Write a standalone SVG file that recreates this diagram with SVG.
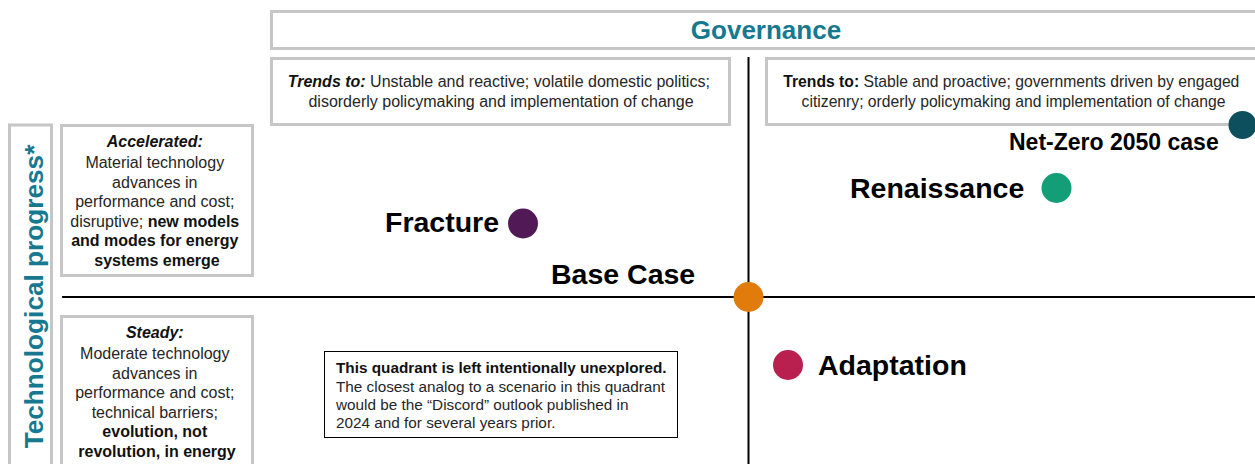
<svg xmlns="http://www.w3.org/2000/svg" width="1255" height="464" viewBox="0 0 1255 464">
  <style>
    .frame { fill: #ffffff; stroke: #c6c6c6; stroke-width: 3; }
    .axis { stroke: #000000; stroke-width: 2; fill: none; }
    .title { font-family: "Liberation Sans", Arial, sans-serif; font-weight: bold; fill: #17798f; }
    .desc { font-family: "Liberation Sans", Arial, sans-serif; fill: #262626; }
    .b { font-weight: bold; fill: #111111; }
    .bi { font-weight: bold; font-style: italic; fill: #111111; }
    .label { font-family: "Liberation Sans", Arial, sans-serif; font-weight: bold; font-size: 28.5px; fill: #000000; }
    .label-sm { font-size: 23px; }
    .note { fill: #ffffff; stroke: #000000; stroke-width: 1; }
  </style>

  <rect width="1255" height="464" fill="#ffffff"/>

  <!-- Governance header -->
  <g id="governance">
    <rect class="frame" x="271.5" y="11.5" width="1000" height="37"/>
    <text class="title" x="766" y="39" font-size="26" text-anchor="middle">Governance</text>
  </g>

  <!-- Governance descriptors -->
  <g id="gov-unstable">
    <rect class="frame" x="271.5" y="58.5" width="458" height="66"/>
    <text class="desc" font-size="16" text-anchor="middle">
      <tspan x="501" y="87"><tspan class="bi">Trends to:</tspan> Unstable and reactive; volatile domestic politics;</tspan>
      <tspan x="501" y="107">disorderly policymaking and implementation of change</tspan>
    </text>
  </g>
  <g id="gov-stable">
    <rect class="frame" x="766.5" y="58.5" width="500" height="66"/>
    <text class="desc" font-size="15.7" text-anchor="middle">
      <tspan x="1013.5" y="87"><tspan class="b">Trends to:</tspan> Stable and proactive; governments driven by engaged</tspan>
      <tspan x="1013.5" y="107">citizenry; orderly policymaking and implementation of change</tspan>
    </text>
  </g>

  <!-- Technological progress axis label -->
  <g id="tech-progress">
    <rect class="frame" x="9.5" y="125" width="42" height="350"/>
    <text class="title" font-size="26.2" text-anchor="middle" transform="translate(42.5,296.5) rotate(-90)">Technological progress*</text>
  </g>

  <!-- Technology descriptors -->
  <g id="tech-accelerated">
    <rect class="frame" x="61.5" y="125.5" width="191" height="150"/>
    <text class="desc" font-size="16" text-anchor="middle">
      <tspan class="bi" x="157" y="147">Accelerated:</tspan>
      <tspan x="157" y="168">Material technology</tspan>
      <tspan x="157" y="187.5">advances in</tspan>
      <tspan x="157" y="207">performance and cost;</tspan>
      <tspan x="157" y="226.5">disruptive; <tspan class="b">new models</tspan></tspan>
      <tspan class="b" x="157" y="246">and modes for energy</tspan>
      <tspan class="b" x="157" y="265.5">systems emerge</tspan>
    </text>
  </g>
  <g id="tech-steady">
    <rect class="frame" x="61.5" y="316.5" width="191" height="160"/>
    <text class="desc" font-size="16" text-anchor="middle">
      <tspan class="bi" x="157" y="338">Steady:</tspan>
      <tspan x="157" y="359">Moderate technology</tspan>
      <tspan x="157" y="379">advances in</tspan>
      <tspan x="157" y="398">performance and cost;</tspan>
      <tspan x="157" y="417.5">technical barriers;</tspan>
      <tspan class="b" x="157" y="437">evolution, not</tspan>
      <tspan class="b" x="157" y="456.5">revolution, in energy</tspan>
    </text>
  </g>

  <!-- Quadrant axes -->
  <g id="connectors">
    <line class="axis" x1="748.5" y1="57" x2="748.5" y2="464"/>
    <line class="axis" x1="62" y1="297" x2="1255" y2="297"/>
  </g>

  <!-- Note for the unexplored quadrant -->
  <g id="unexplored-note">
    <rect class="note" x="324.5" y="351.5" width="353" height="86"/>
    <text class="desc" font-size="15.3" fill="#111111">
      <tspan class="b" x="336" y="372.5">This quadrant is left intentionally unexplored.</tspan>
      <tspan x="336" y="391.5">The closest analog to a scenario in this quadrant</tspan>
      <tspan x="336" y="410">would be the “Discord” outlook published in</tspan>
      <tspan x="336" y="428">2024 and for several years prior.</tspan>
    </text>
  </g>

  <!-- Scenarios -->
  <g id="fracture">
    <text class="label" x="385" y="232">Fracture</text>
    <circle cx="523" cy="223.5" r="15" fill="#511a57"/>
  </g>
  <g id="base-case">
    <text class="label" x="551" y="283.5">Base Case</text>
    <circle cx="748.5" cy="297" r="15" fill="#e07b0c"/>
  </g>
  <g id="renaissance">
    <text class="label" x="850" y="198">Renaissance</text>
    <circle cx="1056.5" cy="188" r="15" fill="#139e78"/>
  </g>
  <g id="net-zero">
    <text class="label label-sm" x="1009" y="150">Net-Zero 2050 case</text>
    <circle cx="1242.5" cy="125" r="14" fill="#0e4f5e"/>
  </g>
  <g id="adaptation">
    <circle cx="788" cy="365" r="15" fill="#b9204f"/>
    <text class="label" x="818" y="375">Adaptation</text>
  </g>
</svg>
